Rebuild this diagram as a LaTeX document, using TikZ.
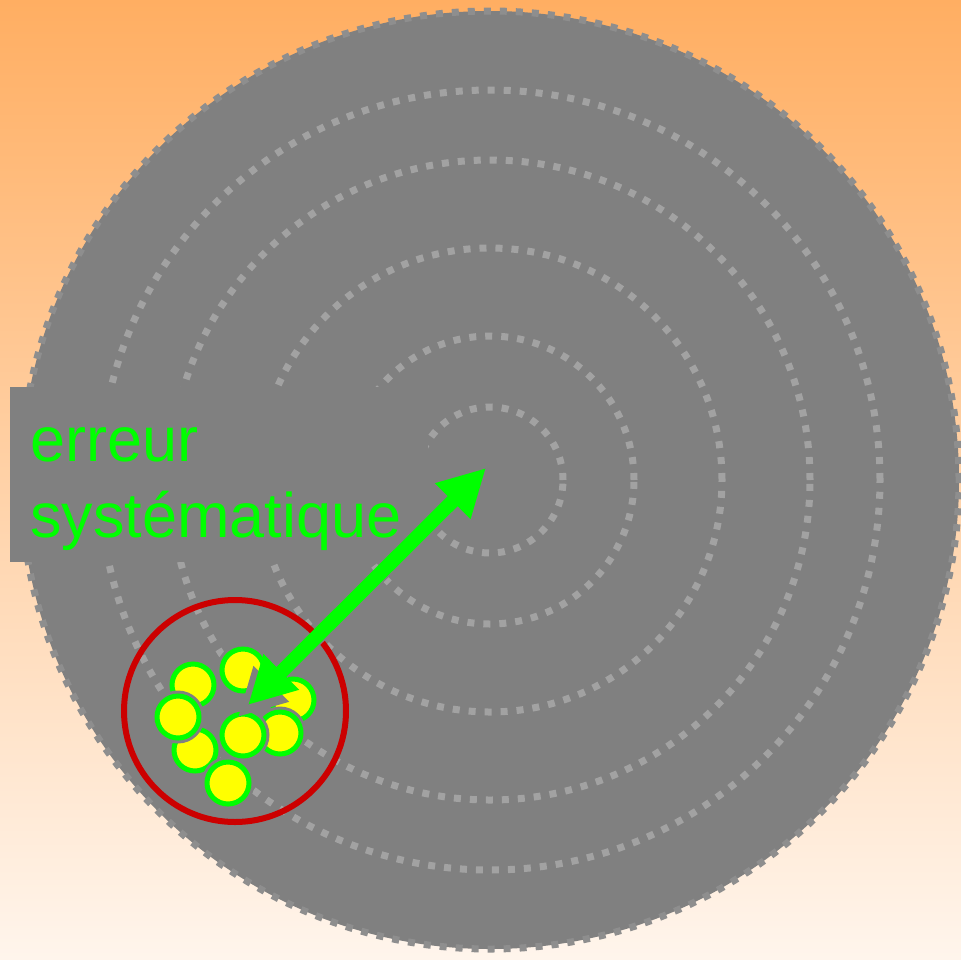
\documentclass[tikz,border=0pt]{standalone}
\usepackage{fontspec}
\setmainfont{Liberation Sans}
\usetikzlibrary{arrows.meta,calc}
\definecolor{bgtop}{HTML}{FFAE62}
\definecolor{bgbot}{HTML}{FFF5EC}
\definecolor{disk}{HTML}{808080}
\definecolor{ringdot}{HTML}{A2A2A2}
\definecolor{edgedot}{HTML}{8E8E8E}
\definecolor{grn}{HTML}{00FF00}
\definecolor{ylw}{HTML}{FFFF00}
\definecolor{redc}{HTML}{CC0000}
\begin{document}
\begin{tikzpicture}[x=1pt,y=-1pt,
  ring/.style={draw=ringdot, line width=7pt, dash pattern=on 7pt off 9pt},
  edgering/.style={draw=edgedot, line width=7pt, dash pattern=on 7pt off 9pt},
  shot/.style={circle, fill=ylw, draw=grn, line width=5pt, minimum size=42pt, inner sep=0pt},
  shotgap/.style={fill=disk},
  bigarrow/.style={line width=14pt, arrows={Triangle[length=47pt,width=47pt]-Triangle[length=47pt,width=47pt]}},
  lbl/.style={anchor=base west, inner sep=0pt, text=grn, font=\fontsize{63pt}{76pt}\selectfont}]
\useasboundingbox (0,0) rectangle (961,959);
\shade[top color=bgtop, bottom color=bgbot] (0,0) rectangle (961,959);
\coordinate (c) at (490,480);
\fill[disk] (c) circle (469pt);
\draw[edgering] (c) circle (469pt);
\foreach \r in {73,144,232,320,390} { \draw[ring] (c) circle (\r pt); }
\node[fill=disk, minimum width=418pt, minimum height=175pt, inner sep=0pt, anchor=north west] (box) at (10,387) {};
\node[lbl] (t1) at (30,461) {erreur};
\node[lbl] (t2) at (30,537) {systématique};
\node[circle, draw=redc, line width=6pt, minimum size=222pt, inner sep=0pt] (group) at (235,711) {};
\foreach \n/\x/\y in {b/193/685, a/243/670, d/293/700, e/280/733, g/195/750, h/228/783, cc/178/717, f/243/735} {
  \fill[shotgap] (\x,\y) circle (26.5pt);
  \node[shot] (shot\n) at (\x,\y) {};
}
\coordinate (tipL) at (248,705);
\coordinate (tipU) at (486,468);
\draw[bigarrow, disk] ($(tipL)+(-10,12)$) -- ($(tipU)+(-10,12)$);
\draw[bigarrow, grn] (tipL) -- (tipU);
\end{tikzpicture}
\end{document}
